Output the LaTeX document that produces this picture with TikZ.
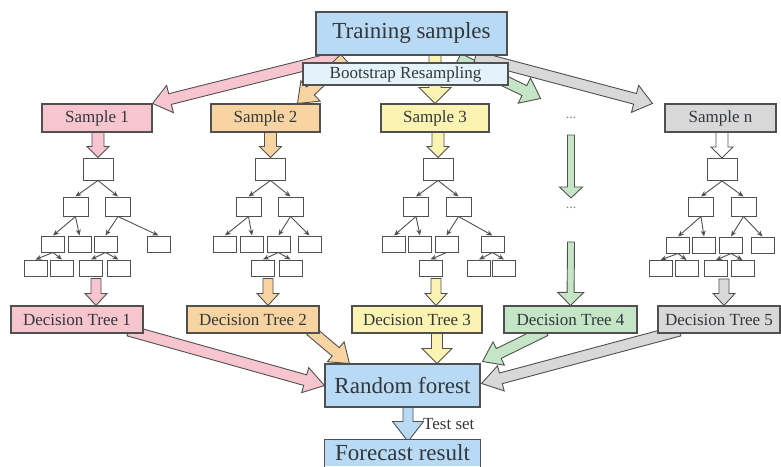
\documentclass[tikz,border=0pt]{standalone}
\usepackage{fontspec}
\setmainfont{Liberation Serif}
\usepackage{tikz}
\usetikzlibrary{arrows.meta,calc,backgrounds}
\definecolor{boxblue}{RGB}{185,218,245}
\definecolor{bootblue}{RGB}{228,243,250}
\definecolor{pinkfill}{RGB}{247,197,205}
\definecolor{orangefill}{RGB}{249,212,163}
\definecolor{yellowfill}{RGB}{251,243,178}
\definecolor{greenfill}{RGB}{197,229,199}
\definecolor{grayfill}{RGB}{216,216,216}
\definecolor{edgegray}{RGB}{80,80,80}
\definecolor{textgray}{RGB}{50,55,60}

% fat outlined arrow: fill, shaft half width, head half width, head length, from, to
\newcommand{\fatarrow}[6]{%
  \coordinate (fa-a) at #5;
  \coordinate (fa-b) at #6;
  \coordinate (fa-h) at ($(fa-b)!#4!(fa-a)$);
  \filldraw[fill=#1,draw=edgegray,line width=0.9pt,line join=miter]
    ($(fa-a)!#2!90:(fa-b)$) -- ($(fa-h)!#2!90:(fa-b)$) -- ($(fa-h)!#3!90:(fa-b)$)
    -- (fa-b) -- ($(fa-h)!#3!-90:(fa-b)$) -- ($(fa-h)!#2!-90:(fa-b)$)
    -- ($(fa-a)!#2!-90:(fa-b)$) -- cycle;
}

\tikzset{
  box/.style={draw=edgegray,line width=1.1pt,text=textgray,inner sep=0pt},
  bigbox/.style={box,fill=boxblue,font=\fontsize{23}{26}\selectfont},
  midbox/.style={box,font=\fontsize{17}{20}\selectfont,minimum height=28pt},
  leaf/.style={draw=edgegray,line width=1pt,fill=white,minimum width=23pt,minimum height=16pt,inner sep=0pt},
  rootleaf/.style={leaf,minimum width=30pt,minimum height=22pt},
  midleaf/.style={leaf,minimum width=25pt,minimum height=19pt},
  link/.style={draw=edgegray,line width=0.9pt,-{Stealth[length=6pt,width=5pt]}},
  dots/.style={text=gray,inner sep=0pt,font=\fontsize{14}{16}\selectfont}
}

\begin{document}
\begin{tikzpicture}[x=1pt,y=-1pt]
  \useasboundingbox (0,0) rectangle (781,466);

  % Top
  \node[bigbox,minimum width=191pt,minimum height=43pt] (train) at (411.5,33.5) {Training samples};
  \node[box,fill=bootblue,minimum width=205pt,minimum height=22pt,font=\fontsize{17}{20}\selectfont] (boot) at (405.5,74) {Bootstrap Resampling};

  % Samples
  \node[midbox,fill=pinkfill,minimum width=110pt] (s1) at (97,118) {Sample 1};
  \node[midbox,fill=orangefill,minimum width=109pt] (s2) at (265.5,118) {Sample 2};
  \node[midbox,fill=yellowfill,minimum width=108pt] (s3) at (435,118) {Sample 3};
  \node[dots] (dotsa) at (571,118) {...};
  \node[midbox,fill=grayfill,minimum width=111pt] (sn) at (720.5,118) {Sample n};

  % Tree 1
  \node[rootleaf] (t1r) at (98,169) {};
  \node[midleaf] (t1a) at (75.5,206.5) {};
  \node[midleaf] (t1b) at (118,206.5) {};
  \node[leaf] (t1c) at (53,244) {};
  \node[leaf] (t1d) at (79.5,244) {};
  \node[leaf] (t1e) at (105.5,244) {};
  \node[leaf] (t1f) at (158.5,244) {};
  \node[leaf] (t1g) at (35.5,268) {};
  \node[leaf] (t1h) at (62,268) {};
  \node[leaf] (t1i) at (91,268) {};
  \node[leaf] (t1j) at (118.5,268) {};
  \foreach \p/\c in {r/a,r/b,a/c,a/d,b/e,b/f,c/g,c/h,e/i,e/j}
    \draw[link] (t1\p.south) -- (t1\c.north);

  % Tree 2
  \node[rootleaf] (t2r) at (270.5,169) {};
  \node[midleaf] (t2a) at (248.5,206.5) {};
  \node[midleaf] (t2b) at (290.5,206.5) {};
  \node[leaf] (t2c) at (225,244) {};
  \node[leaf] (t2d) at (252,244) {};
  \node[leaf] (t2e) at (278.5,244) {};
  \node[leaf] (t2f) at (309.5,244) {};
  \node[leaf] (t2g) at (263,268) {};
  \node[leaf] (t2h) at (290.5,268) {};
  \foreach \p/\c in {r/a,r/b,a/c,a/d,b/e,b/f,e/g,e/h}
    \draw[link] (t2\p.south) -- (t2\c.north);

  % Tree 3
  \node[rootleaf] (t3r) at (438,169) {};
  \node[midleaf] (t3a) at (416,206.5) {};
  \node[midleaf] (t3b) at (458.5,206.5) {};
  \node[leaf] (t3c) at (394,244) {};
  \node[leaf] (t3d) at (420,244) {};
  \node[leaf] (t3e) at (446.5,244) {};
  \node[leaf] (t3f) at (492.5,244) {};
  \node[leaf] (t3g) at (430.5,268) {};
  \node[leaf] (t3h) at (479,268) {};
  \node[leaf] (t3i) at (504,268) {};
  \foreach \p/\c in {r/a,r/b,a/c,a/d,b/e,b/f,e/g,f/h,f/i}
    \draw[link] (t3\p.south) -- (t3\c.north);

  % Tree n
  \node[rootleaf] (tnr) at (722,169.5) {};
  \node[midleaf] (tna) at (701,206.5) {};
  \node[midleaf] (tnb) at (743.5,206.5) {};
  \node[leaf] (tnc) at (678,245) {};
  \node[leaf] (tnd) at (704,245) {};
  \node[leaf] (tne) at (731,245) {};
  \node[leaf] (tnf) at (762.5,245) {};
  \node[leaf] (tng) at (660.5,268.5) {};
  \node[leaf] (tnh) at (686.5,268.5) {};
  \node[leaf] (tni) at (716,268.5) {};
  \node[leaf] (tnj) at (742.5,268.5) {};
  \foreach \p/\c in {r/a,r/b,a/c,a/d,b/e,b/f,c/g,c/h,e/i,e/j}
    \draw[link] (tn\p.south) -- (tn\c.north);

  \node[dots] (dotsb) at (571,208) {...};

  % Decision trees
  \node[midbox,fill=pinkfill,minimum width=132pt,minimum height=27pt] (d1) at (77,319.5) {Decision Tree 1};
  \node[midbox,fill=orangefill,minimum width=132pt,minimum height=27pt] (d2) at (253,319.5) {Decision Tree 2};
  \node[midbox,fill=yellowfill,minimum width=130pt,minimum height=27pt] (d3) at (417,319.5) {Decision Tree 3};
  \node[midbox,fill=greenfill,minimum width=133pt,minimum height=27pt] (d4) at (570.5,319.5) {Decision Tree 4};
  \node[midbox,fill=grayfill,minimum width=122pt,minimum height=27pt] (d5) at (719,319.5) {Decision Tree 5};

  % Result
  \node[bigbox,minimum width=155pt,minimum height=43pt] (rf) at (402.5,385.5) {Random forest};
  \node[bigbox,draw=none,minimum width=155pt,minimum height=26pt] (fr) at (402.5,453) {Forecast result};
  \draw[edgegray,line width=1.1pt] (fr.south west) |- (fr.north east) -- (fr.south east);
  \node[text=textgray,inner sep=0pt,anchor=west,font=\fontsize{17}{20}\selectfont] (test) at (423,424) {Test set};

  \begin{scope}[on background layer]
    % Bootstrap arrows
    \fatarrow{pinkfill}{5.5pt}{14pt}{18pt}{($(train.south west)+(24,1)$)}{(s1.north east)}
    \fatarrow{orangefill}{5.5pt}{14pt}{18pt}{($(train.south west)+(29,3)$)}{($(s2.north)+(32,0)$)}
    \fatarrow{yellowfill}{6pt}{16pt}{16pt}{($(s3.north |- train.south)+(0,-5)$)}{(s3.north)}
    \fatarrow{greenfill}{5.5pt}{14pt}{18pt}{($(train.south)+(47,3)$)}{($(s3.north east)+(51,-5)$)}
    \fatarrow{grayfill}{5.5pt}{14pt}{18pt}{($(train.south)+(64,1)$)}{($(sn.north west)+(-12,0)$)}

    % Sample to tree
    \fatarrow{pinkfill}{6pt}{11pt}{11pt}{($(t1r.north |- s1.south)+(0,-2)$)}{(t1r.north)}
    \fatarrow{orangefill}{6pt}{11pt}{11pt}{($(t2r.north |- s2.south)+(0,-2)$)}{(t2r.north)}
    \fatarrow{yellowfill}{6pt}{11pt}{11pt}{($(t3r.north |- s3.south)+(0,-2)$)}{(t3r.north)}
    \fatarrow{white}{6pt}{11pt}{11pt}{($(tnr.north |- sn.south)+(0,-2)$)}{(tnr.north)}
    \fatarrow{greenfill}{3.5pt}{11.5pt}{11pt}{($(dotsa)+(0,17)$)}{($(dotsb)+(0,-10)$)}

    % Tree to decision tree
    \fatarrow{pinkfill}{5pt}{11pt}{12pt}{($(t1r |- t1g.south)+(-2,2)$)}{($(t1r |- d1.north)+(-2,0)$)}
    \fatarrow{orangefill}{5pt}{11pt}{12pt}{($(t2r |- t2g.south)+(-2.5,2)$)}{($(t2r |- d2.north)+(-2.5,0)$)}
    \fatarrow{yellowfill}{5pt}{11pt}{12pt}{($(t3r |- t3g.south)+(-2,2)$)}{($(t3r |- d3.north)+(-2,0)$)}
    \fatarrow{greenfill}{3.5pt}{13pt}{13pt}{($(dotsb)+(0,34)$)}{(d4.north)}
    \fatarrow{grayfill}{5pt}{11pt}{12pt}{($(tnr |- tng.south)+(2,2)$)}{($(tnr |- d5.north)+(2,0)$)}

    % Decision tree to forest
    \fatarrow{pinkfill}{5.5pt}{13pt}{20pt}{($(d1.south east)+(-15,-3)$)}{(rf.west)}
    \fatarrow{orangefill}{5.5pt}{13pt}{18pt}{($(d2.south east)+(-9,-3)$)}{($(rf.north west)+(25,0)$)}
    \fatarrow{yellowfill}{5.5pt}{15pt}{15pt}{($(t3r |- d3.south)+(-1,-3)$)}{($(t3r |- rf.north)+(-1,0)$)}
    \fatarrow{greenfill}{5.5pt}{13pt}{18pt}{($(d4.south west)+(42,-3)$)}{($(rf.north east)+(2,-2)$)}
    \fatarrow{grayfill}{5.5pt}{13pt}{20pt}{($(d5.south west)+(22,-3)$)}{($(rf.east)+(1,-2)$)}

    % Test set
    \fatarrow{boxblue}{5pt}{15.5pt}{20pt}{($(rf.south)+(5.5,-3)$)}{($(fr.north)+(5.5,2)$)}
  \end{scope}
\end{tikzpicture}
\end{document}
